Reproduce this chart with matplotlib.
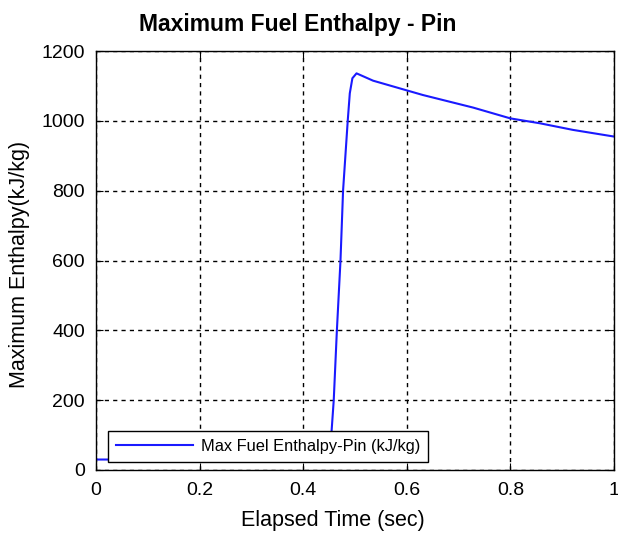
import matplotlib
matplotlib.use("Agg")
import matplotlib.pyplot as plt

plt.rcParams['font.family'] = ['Liberation Sans', 'DejaVu Sans']

time_s = [0.0, 0.45, 0.452, 0.455, 0.459, 0.465, 0.472, 0.477, 0.486, 0.490, 0.495, 0.503,
          0.535, 0.631, 0.728, 0.800, 0.857, 0.921, 1.0]
enthalpy = [30, 30, 60, 115, 200, 398, 599, 800, 1000, 1079, 1122, 1136,
            1115, 1074, 1038, 1007, 993, 974, 955]
x_ticks = [0, 0.2, 0.4, 0.6, 0.8, 1]
x_tick_labels = ['0', '0.2', '0.4', '0.6', '0.8', '1']
y_ticks = [0, 200, 400, 600, 800, 1000, 1200]

fig = plt.figure(figsize=(6.18, 5.33), dpi=100)
ax = fig.add_axes([0.1553, 0.1182, 0.8382, 0.7861])
ax.plot(time_s, enthalpy, color='#1a1aff', lw=1.5, label='Max Fuel Enthalpy-Pin (kJ/kg)')
ax.set_xlim(0, 1)
ax.set_ylim(0, 1200)
ax.set_xticks(x_ticks)
ax.set_xticklabels(x_tick_labels)
ax.set_yticks(y_ticks)
ax.grid(True, color='black', linestyle=(0, (3, 3)), linewidth=1.0)
ax.tick_params(direction='in', top=True, right=True, labelsize=14, length=5, width=0.8)
ax.tick_params(axis='y', pad=8)
ax.tick_params(axis='x', pad=9)
for s in ax.spines.values():
    s.set_linewidth(1.0)
fig.text(298 / 618, 1 - 24 / 533, 'Maximum Fuel Enthalpy - Pin', fontsize=16.5,
         fontweight='bold', ha='center', va='center')
ax.set_xlabel('Elapsed Time (sec)', fontsize=15.5)
ax.xaxis.set_label_coords(333 / 618 / 0.8382 - 0.1553 / 0.8382, -(521 - 470) / 419)
ax.xaxis.label.set_va('center')
ax.set_ylabel('Maximum Enthalpy(kJ/kg)', fontsize=15.5)
ax.yaxis.set_label_coords(-(96 - 20) / 518, (470 - 264) / 419)
ax.yaxis.label.set_va('center')
leg = ax.legend(loc='lower left', bbox_to_anchor=(12 / 518, 8 / 419), fontsize=11.8, frameon=True,
                fancybox=False, edgecolor='black', framealpha=1, borderpad=0.5,
                handlelength=4.7, handletextpad=0.45, borderaxespad=0)
leg.get_frame().set_linewidth(1.0)
fig.savefig('out.png', dpi=100)
